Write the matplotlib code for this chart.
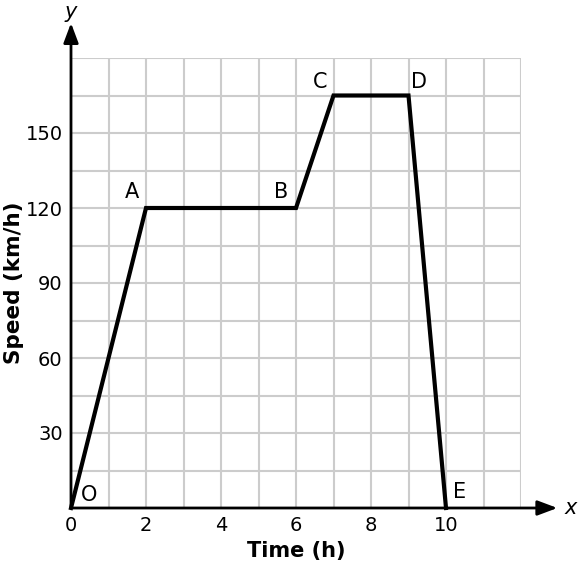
import matplotlib
matplotlib.use("Agg")
import matplotlib.pyplot as plt

# Data
time_h = [0, 2, 6, 7, 9, 10]
speed_kmh = [0, 120, 120, 165, 165, 0]
point_labels = ["O", "A", "B", "C", "D", "E"]
x_ticks = [0, 2, 4, 6, 8, 10]
y_ticks = [30, 60, 90, 120, 150]

W, H = 578, 570
fig = plt.figure(figsize=(W / 100, H / 100), dpi=100)
ax = fig.add_axes([71 / W, (570 - 508) / H, 450 / W, 450 / H])
ax.set_xlim(0, 12)
ax.set_ylim(0, 180)

# grid
for xv in range(1, 13):
    ax.axvline(xv, color="#cccccc", lw=1.5, zorder=1)
for yv in range(15, 181, 15):
    ax.axhline(yv, color="#cccccc", lw=1.5, zorder=1)

for s in ax.spines.values():
    s.set_visible(False)

# axes with arrows
ax.annotate("", xy=(12.97, 0), xytext=(0, 0), xycoords="data",
            arrowprops=dict(arrowstyle="-|>,head_length=1.2,head_width=0.45",
                            color="black", lw=2, shrinkA=0, shrinkB=0),
            annotation_clip=False, zorder=3)
ax.annotate("", xy=(0, 194), xytext=(0, 0), xycoords="data",
            arrowprops=dict(arrowstyle="-|>,head_length=1.2,head_width=0.45",
                            color="black", lw=2, shrinkA=0, shrinkB=0),
            annotation_clip=False, zorder=3)
ax.text(13.15, 0, "x", fontsize=15, style="italic", ha="left", va="center",
        clip_on=False)
ax.text(0, 202.5, "y", fontsize=15, style="italic", ha="center", va="top",
        clip_on=False)

ax.plot(time_h, speed_kmh, color="black", lw=3.0, solid_joinstyle="miter",
        zorder=4, clip_on=False)

offsets = {
    "O": (0.49, 5.2, "center", "center"),
    "A": (-0.37, 2.4, "center", "bottom"),
    "B": (-0.4, 2.4, "center", "bottom"),
    "C": (-0.36, 1.6, "center", "bottom"),
    "D": (0.29, 1.6, "center", "bottom"),
    "E": (0.37, 6.6, "center", "center"),
}
for xv, yv, lab in zip(time_h, speed_kmh, point_labels):
    dx, dy, ha, va = offsets[lab]
    ax.text(xv + dx, yv + dy, lab, fontsize=15, ha=ha, va=va, zorder=5)

ax.set_xticks(x_ticks)
ax.set_yticks(y_ticks)
ax.tick_params(length=0, labelsize=14, pad=6)
ax.set_xlabel("Time (h)", fontsize=15, fontweight="bold", labelpad=4)
fig.text(14 / W, 1 - 283 / H, "Speed (km/h)", fontsize=15.5, fontweight="bold",
         rotation=90, ha="center", va="center")

fig.savefig("out.png", dpi=100)
